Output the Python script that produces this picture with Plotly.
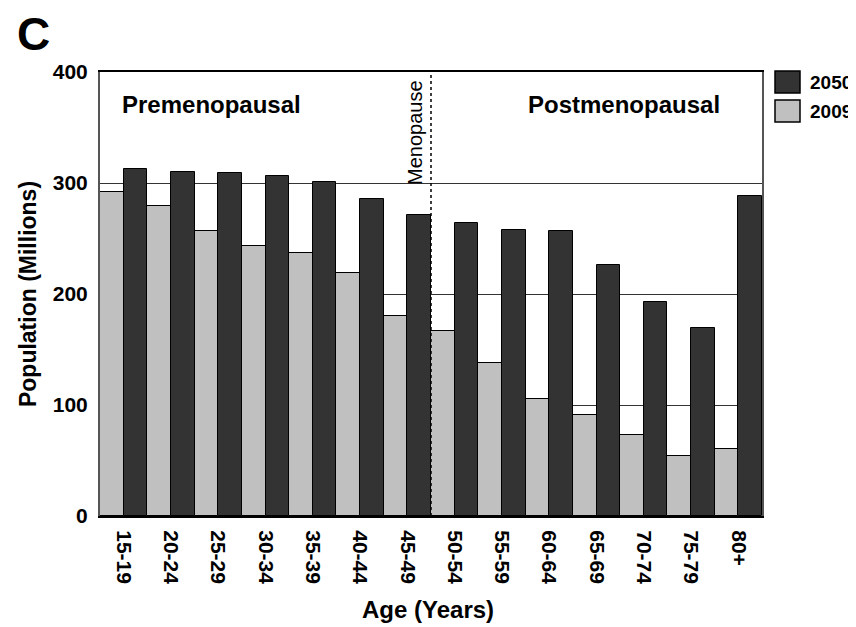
import plotly.graph_objects as go

categories = ["15-19", "20-24", "25-29", "30-34", "35-39", "40-44", "45-49",
              "50-54", "55-59", "60-64", "65-69", "70-74", "75-79", "80+"]
pop_2009 = [292, 279, 257, 243, 237, 219, 180, 167, 138, 105, 91, 73, 54, 60]
pop_2050 = [313, 310, 309, 306, 301, 286, 271, 264, 258, 257, 226, 193, 169, 288]
series_names = ["2009", "2050"]
y_ticks = [0, 100, 200, 300, 400]

FONT = "Liberation Sans, Arial, Helvetica, sans-serif"
DARK = "#333333"
LIGHT = "#c0c0c0"

fig = go.Figure()
fig.add_trace(go.Bar(x=categories, y=pop_2009, name=series_names[0],
                     marker=dict(color=LIGHT, line=dict(color="black", width=1)),
                     showlegend=False))
fig.add_trace(go.Bar(x=categories, y=pop_2050, name=series_names[1],
                     marker=dict(color=DARK, line=dict(color="black", width=1)),
                     showlegend=False))

# page has an 8px body margin: plot area on page is x 100..762, y 72..516
fig.update_layout(
    width=856, height=627,
    margin=dict(l=92, r=102, t=64, b=119),
    paper_bgcolor="white", plot_bgcolor="white",
    barmode="group", bargap=0, bargroupgap=0,
    font=dict(family=FONT, color="black"),
)
fig.update_xaxes(
    type="category", tickangle=90, ticks="",
    tickfont=dict(size=21, family=FONT, weight="bold"),
    showline=True, linecolor="black", linewidth=2, mirror=True,
    ticklabelstandoff=8,
)
fig.update_yaxes(
    range=[0, 400], tickvals=y_ticks, ticks="",
    tickfont=dict(size=21, family=FONT, weight="bold"),
    showline=True, linecolor="#555", linewidth=2, mirror=True,
    showgrid=True, gridcolor="#333", gridwidth=1, zeroline=False,
    ticklabelstandoff=6,
    title=dict(text="Population (Millions)", font=dict(size=23, family=FONT, weight="bold"), standoff=10),
)

# menopause divider
fig.add_shape(type="line", xref="x", yref="y", x0=6.5, x1=6.5, y0=0, y1=400,
              line=dict(color="black", width=1.5, dash="dot"), layer="above")

def px2paper_x(px):
    return (px - 100) / 662

def px2paper_y(py):
    return (516 - py) / 444

annotations = [
    dict(text="<b>Premenopausal</b>", x=px2paper_x(120), y=px2paper_y(104), xanchor="left", yanchor="middle",
         font=dict(size=24, family=FONT)),
    dict(text="<b>Postmenopausal</b>", x=px2paper_x(526), y=px2paper_y(104), xanchor="left", yanchor="middle",
         font=dict(size=24, family=FONT)),
    dict(text="Menopause", x=px2paper_x(415), y=px2paper_y(133), xanchor="center", yanchor="middle",
         textangle=-90, font=dict(size=20, family=FONT)),
    dict(text="<b>C</b>", x=px2paper_x(15), y=px2paper_y(34), xanchor="left", yanchor="middle",
         font=dict(size=46, family=FONT)),
    dict(text="<b>Age (Years)</b>", x=px2paper_x(428), y=px2paper_y(609), xanchor="center", yanchor="middle",
         font=dict(size=24, family=FONT)),
]
for a in annotations:
    a.update(xref="paper", yref="paper", showarrow=False)
    fig.add_annotation(**a)

# legend (2050 first, then 2009)
legend_items = [(series_names[1], DARK, 71), (series_names[0], LIGHT, 100)]
for name, col, top in legend_items:
    fig.add_shape(type="rect", xref="paper", yref="paper",
                  x0=px2paper_x(775), x1=px2paper_x(800), y0=px2paper_y(top), y1=px2paper_y(top + 22),
                  fillcolor=col, line=dict(color="black", width=1.5))
    fig.add_annotation(text=f"<b>{name}</b>", xref="paper", yref="paper",
                       x=px2paper_x(808), y=px2paper_y(top + 11), xanchor="left", yanchor="middle",
                       showarrow=False, font=dict(size=19, family=FONT))

fig.write_html("out.html")
